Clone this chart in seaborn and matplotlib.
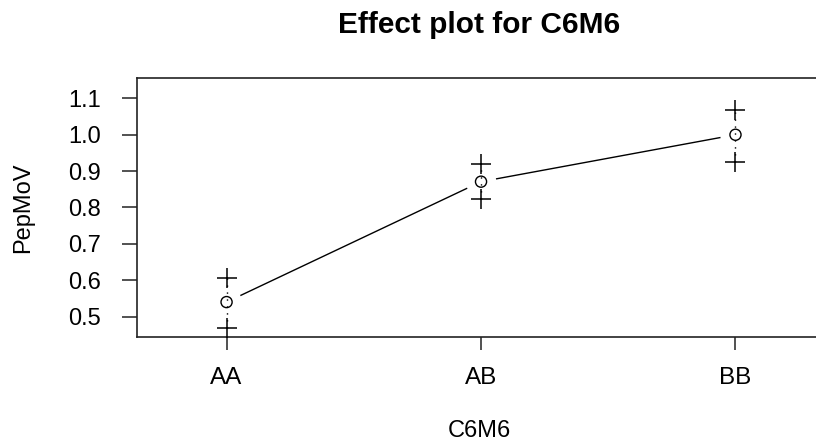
import numpy as np
import pandas as pd
import matplotlib
matplotlib.use("Agg")
import matplotlib.pyplot as plt
import seaborn as sns

# ---- data ----
genotypes = ["AA", "AB", "BB"]
means = [0.540, 0.871, 1.000]
lower = [0.470, 0.822, 0.926]
upper = [0.606, 0.919, 1.068]
y_ticks = [0.5, 0.6, 0.7, 0.8, 0.9, 1.0, 1.1]
title = "Effect plot for C6M6"
x_label = "C6M6"
y_label = "PepMoV"

df = pd.DataFrame({"geno": genotypes, "mean": means, "lo": lower, "hi": upper})

sns.set_style("white")
plt.rcParams["font.family"] = ["Liberation Sans", "DejaVu Sans"]
plt.rcParams["text.color"] = "black"
plt.rcParams["axes.labelcolor"] = "black"

W, H = 816, 442
fig = plt.figure(figsize=(W / 100, H / 100), dpi=100)
left, right, top, bottom = 137, 822, 78, 337
ax = fig.add_axes([left / W, 1 - bottom / H, (right - left) / W, (bottom - top) / H])

# connecting line
sns.lineplot(data=df, x="geno", y="mean", color="black", linewidth=1.0,
             sort=False, ax=ax, zorder=1)
# white gaps around the points (R type="b" look)
sns.scatterplot(data=df, x="geno", y="mean", s=22 ** 2, color="white",
                edgecolor="none", ax=ax, zorder=2)
# dotted confidence bars
ax.vlines(df["geno"], df["lo"], df["hi"], colors="black", linewidth=1.0,
          linestyles=(0, (1, 4)), zorder=3)
# mean circles
sns.scatterplot(data=df, x="geno", y="mean", s=8 ** 2, marker="o",
                facecolor="none", edgecolor="black", linewidth=1.0, ax=ax, zorder=4)
# upper / lower limits
sns.scatterplot(data=df, x="geno", y="lo", s=14 ** 2, marker="+",
                color="black", linewidth=1.1, ax=ax, zorder=4)
sns.scatterplot(data=df, x="geno", y="hi", s=14 ** 2, marker="+",
                color="black", linewidth=1.1, ax=ax, zorder=4)

ax.set_xlim(-0.352, 2.340)
ax.set_ylim(0.444, 1.156)
ax.set_yticks(y_ticks)
ax.set_yticklabels([f"{v:.1f}" for v in y_ticks])

for sp in ["left", "bottom", "top", "right"]:
    ax.spines[sp].set_color("#222222")
    ax.spines[sp].set_linewidth(1.2)

ax.tick_params(axis="y", direction="out", length=11, width=1.1, pad=15,
               labelsize=17, colors="#222222", labelcolor="black", left=True)
ax.tick_params(axis="x", direction="out", length=9.5, width=1.1, pad=12,
               labelsize=17.5, colors="#222222", labelcolor="black", bottom=True)

ax.set_xlabel(x_label, fontsize=17)
ax.set_ylabel(y_label, fontsize=17)
ax.xaxis.set_label_coords((479 - left) / (right - left), (bottom - 431) / (bottom - top))
ax.xaxis.label.set_va("center")
ax.yaxis.set_label_coords((23 - left) / (right - left), 0.5)
ax.yaxis.label.set_va("center")

fig.text(479.5 / W, 1 - 25 / H, title, ha="center", va="center",
         fontsize=21.5, fontweight="bold", color="black")

fig.savefig("out.png", dpi=100)
